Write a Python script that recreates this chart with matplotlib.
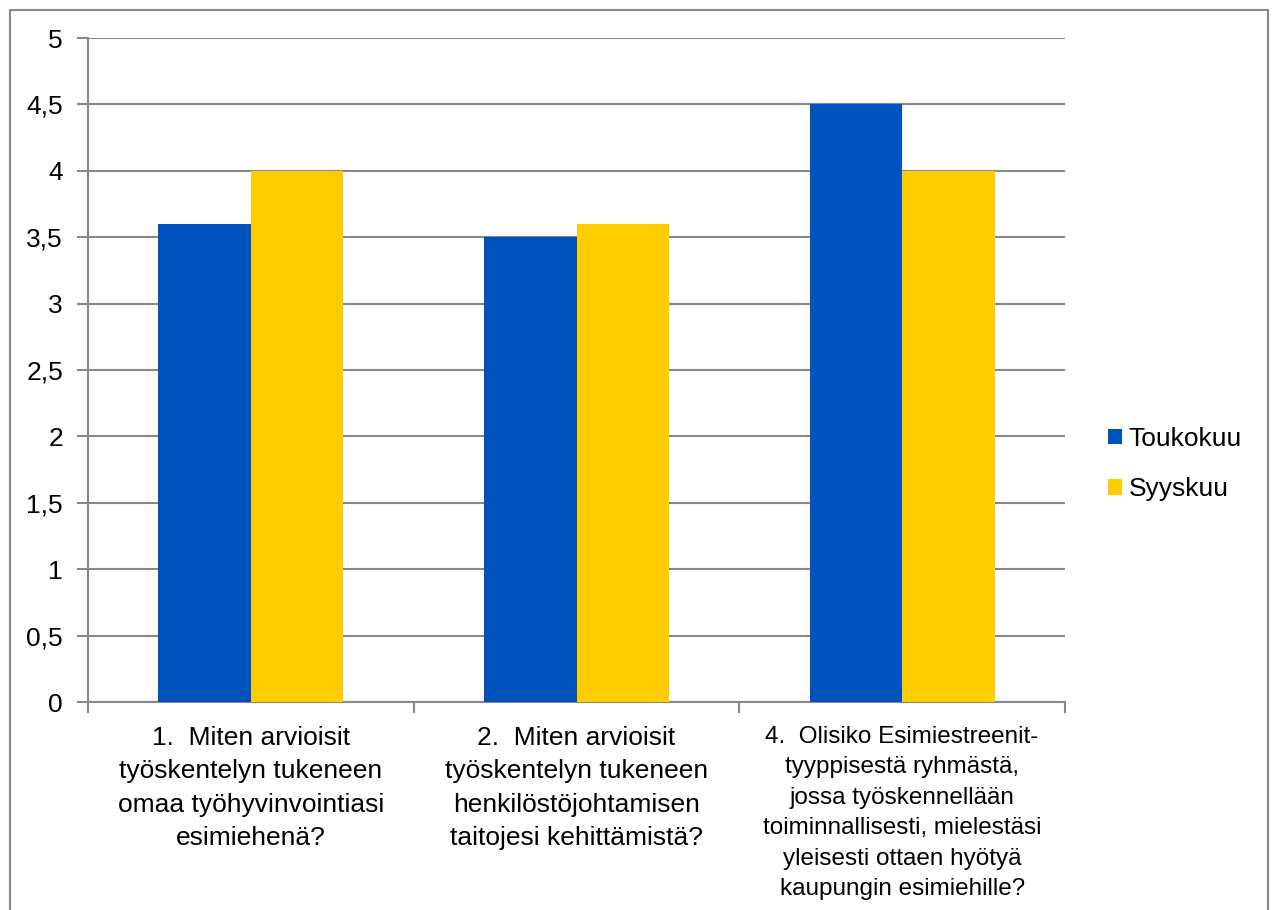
import numpy as np
import matplotlib.pyplot as plt
from matplotlib.patches import Rectangle

plt.rcParams['font.family'] = ['Liberation Sans', 'DejaVu Sans']

# Kysymykset (x-akselin nimikkeet)
kategoriat = [
    '1.  Miten arvioisit\ntyöskentelyn tukeneen\nomaa työhyvinvointiasi\nesimiehenä?',
    '2.  Miten arvioisit\ntyöskentelyn tukeneen\nhenkilöstöjohtamisen\ntaitojesi kehittämistä?',
    '4.  Olisiko Esimiestreenit-\ntyyppisestä ryhmästä,\njossa työskennellään\ntoiminnallisesti, mielestäsi\nyleisesti ottaen hyötyä\nkaupungin esimiehille?',
]
toukokuu = [3.6, 3.5, 4.5]
syyskuu = [4.0, 3.6, 4.0]
y_ticks = [0, 0.5, 1, 1.5, 2, 2.5, 3, 3.5, 4, 4.5, 5]
y_labels = ['0', '0,5', '1', '1,5', '2', '2,5', '3', '3,5', '4', '4,5', '5']

harmaa = '#888888'
sininen = '#0052BD'
keltainen = '#FFCC00'

fig = plt.figure(figsize=(12.72, 9.10), dpi=100)
ax = fig.add_axes([88/1272, 1 - 702/910, (1065 - 88)/1272, (702 - 38)/910])

x = np.arange(len(kategoriat))
w = 0.284
ax.bar(x - w/2, toukokuu, w, color=sininen, label='Toukokuu', zorder=3)
ax.bar(x + w/2, syyskuu, w, color=keltainen, label='Syyskuu', zorder=3)

ax.set_xlim(-0.5, 2.5)
ax.set_ylim(0, 5)
ax.set_yticks(y_ticks)
ax.set_yticklabels(y_labels)
ax.yaxis.grid(True, color=harmaa, lw=1.5, zorder=0)

ax.set_xticks(x)
ax.set_xticklabels(kategoriat, linespacing=1.5)
ax.set_xticks([-0.5, 0.5, 1.5, 2.5], minor=True)
ax.tick_params(axis='x', which='major', length=0, pad=17, labelsize=19)
ax.tick_params(axis='x', which='minor', length=8, width=1.5, color=harmaa)
ax.tick_params(axis='y', length=8, width=1.5, color=harmaa, labelsize=19, pad=10)
# viimeinen nimike on kapeampi
ax.get_xticklabels()[2].set_fontsize(17.5)

for s in ['top', 'right']:
    ax.spines[s].set_visible(False)
for s in ['left', 'bottom']:
    ax.spines[s].set_color(harmaa)
    ax.spines[s].set_linewidth(1.5)

ax.legend(loc='center left', bbox_to_anchor=(1084/1272, 1 - 464/910),
          bbox_transform=fig.transFigure, frameon=False, fontsize=19,
          handlelength=0.55, handleheight=0.55, handletextpad=0.25,
          labelspacing=1.0)

# kehys kuvan ympärillä
fig.patches.append(Rectangle((10/1272, -0.05), 1258/1272, 0.05 + 900/910,
                             transform=fig.transFigure, fill=False,
                             edgecolor=harmaa, lw=1.5))

fig.savefig('out.png', dpi=100)
